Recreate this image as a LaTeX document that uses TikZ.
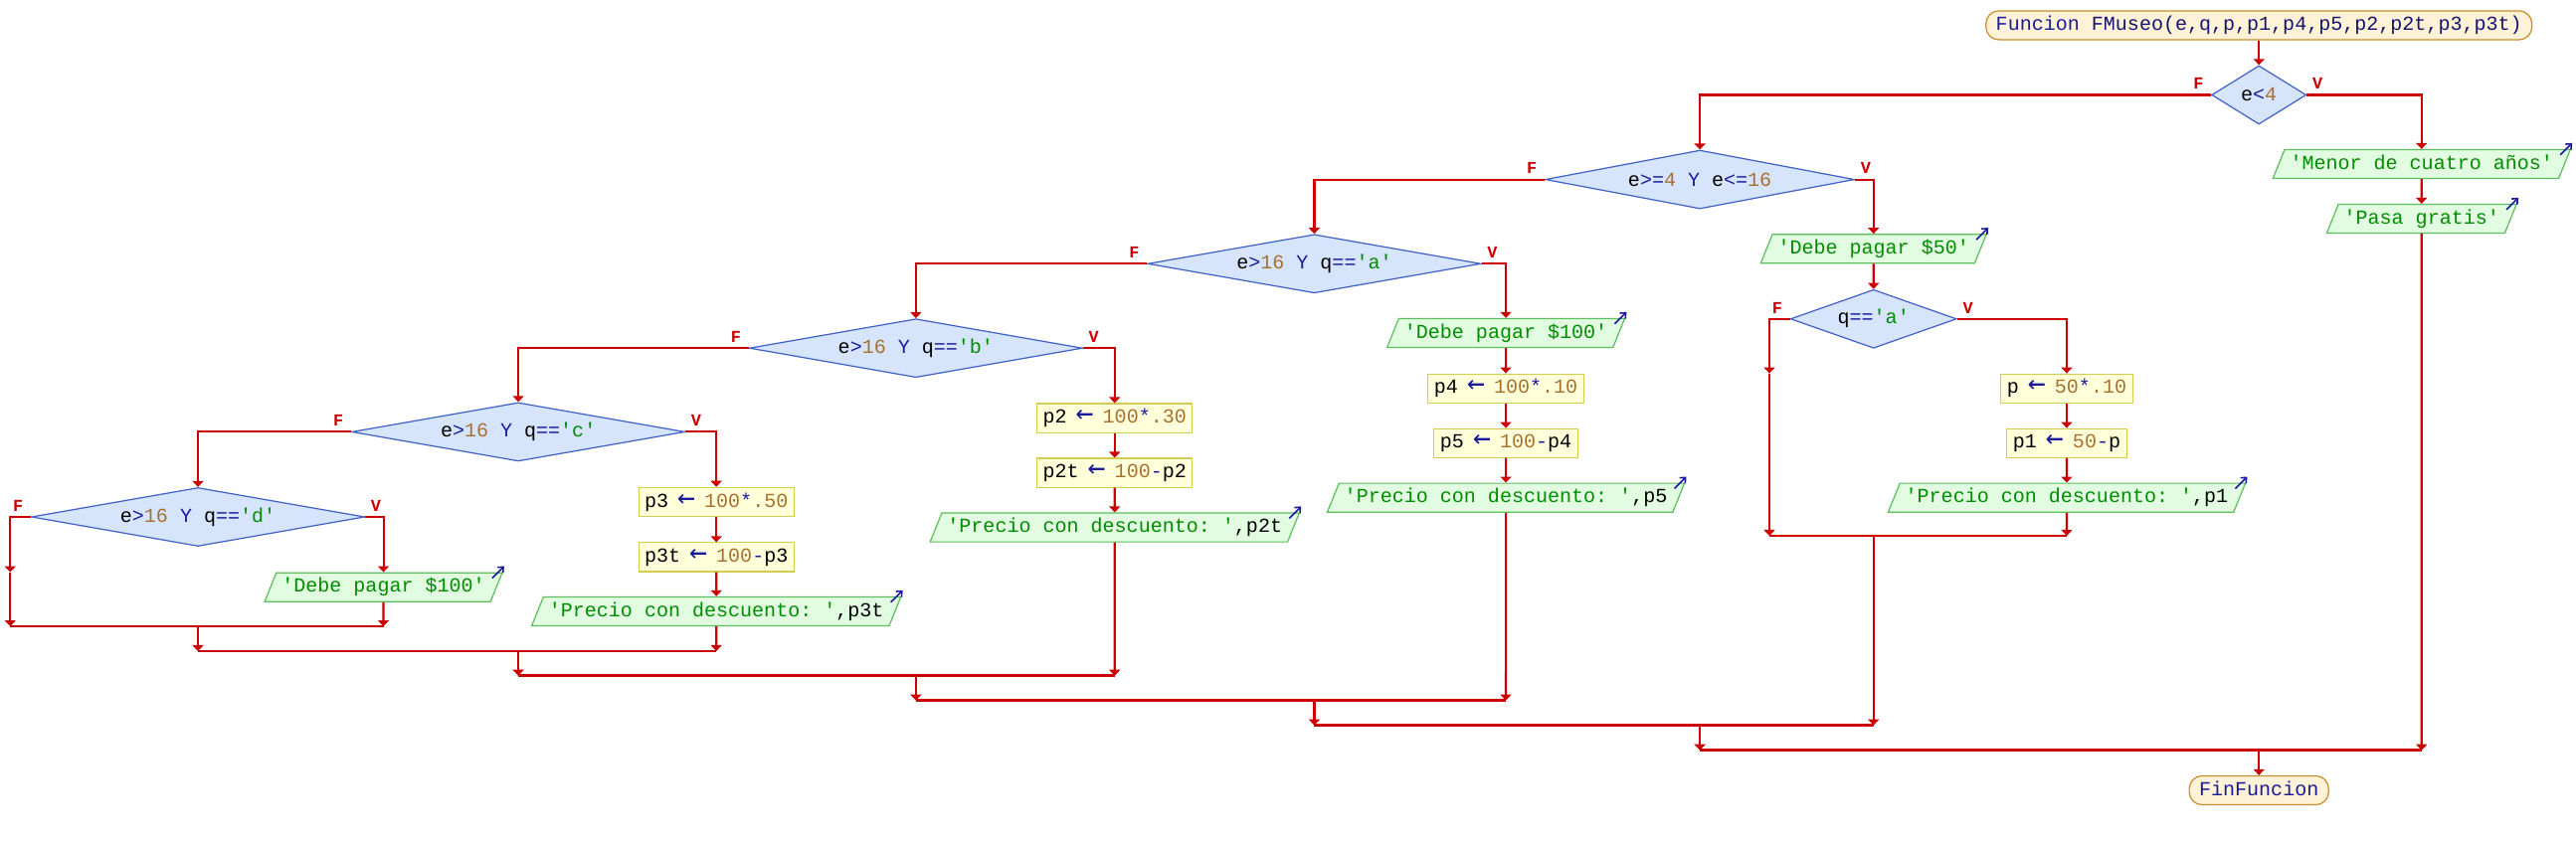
\documentclass[tikz,border=0pt]{standalone}
\usepackage{fontspec}
\setmonofont{Liberation Mono}
\newfontfamily\arrowfont{DejaVu Sans Mono}
\usetikzlibrary{shapes.geometric,arrows.meta}

\definecolor{flowred}{HTML}{CC0000}
\definecolor{opblue}{HTML}{1A1A9C}
\definecolor{hdblue}{HTML}{14146E}
\definecolor{numbrown}{HTML}{A8702F}
\definecolor{strgreen}{HTML}{008C00}
\definecolor{termfill}{HTML}{FFF2D6}
\definecolor{termline}{HTML}{C88E2E}
\definecolor{decfill}{HTML}{D6E4FC}
\definecolor{decline}{HTML}{4262C8}
\definecolor{asgfill}{HTML}{FFFFD9}
\definecolor{asgline}{HTML}{D2CC50}
\definecolor{outfill}{HTML}{E2FCE2}
\definecolor{outborder}{HTML}{5CBE5C}

\newcommand{\pse}{\ttfamily\fontsize{5.7}{6.8}\selectfont}
\newcommand{\pop}[1]{\textcolor{opblue}{#1}}
\newcommand{\pnum}[1]{\textcolor{numbrown}{#1}}
\newcommand{\pstr}[1]{\textcolor{strgreen}{#1}}
\newcommand{\asg}{\pop{\makebox[0.6em][c]{\arrowfont\fontsize{8.5}{8}\selectfont ←}}}
\newcommand{\cond}[1]{\makebox[0pt]{#1}}

\tikzset{
  boxtext/.style={text height=1.45mm, text depth=0.4mm, inner ysep=0.53mm},
  term/.style={boxtext, rectangle, rounded corners=1.3mm, draw=termline, fill=termfill,
    line width=0.35pt, inner xsep=1mm},
  dec/.style={diamond, draw=decline, fill=decfill, line width=0.35pt,
    inner sep=0pt, minimum height=5.9mm, minimum width=33.5mm},
  asgbox/.style={boxtext, rectangle, draw=asgline, fill=asgfill, line width=0.3pt,
    inner xsep=0.6mm},
  outbox/.style={boxtext, trapezium, trapezium left angle=68, trapezium right angle=112,
    draw=outborder, fill=outfill, line width=0.35pt, inner xsep=0.55mm},
  tag/.style={text=flowred, font=\ttfamily\bfseries\fontsize{4.8}{5.5}\selectfont, inner sep=0.5mm},
  flow/.style={draw=flowred, line width=0.6pt, -{Triangle[width=1.1mm,length=0.6mm]}},
  merge/.style={draw=flowred, line width=0.75pt},
  sendmark/.style={draw=opblue, line width=0.45pt, -{Straight Barb[length=0.45mm,width=0.8mm]}}
}

\begin{document}
\begin{tikzpicture}[x=0.16518mm, y=-0.16518mm, font=\pse]
  \useasboundingbox (0,0) rectangle (1568,512);

  % Start and the outer decision
  \node[term] (st) at (1375,15.4) {\pop{Funcion} \textcolor{hdblue}{FMuseo(e,q,p,p1,p4,p5,p2,p2t,p3,p3t)}};
  \node[dec, minimum width=9.5mm] (d1) at (1375,57.8) {\cond{e\pop{<}\pnum{4}}};
  \node[outbox] (o1) at (1474,99.9) {\pstr{'Menor de cuatro años'}};
  \node[outbox] (o2) at (1474,133.2) {\pstr{'Pasa gratis'}};

  % e>=4 Y e<=16
  \node[dec, minimum width=31.1mm] (d2) at (1034.7,109.3) {\cond{e\pop{>=}\pnum{4} \pop{Y} e\pop{<=}\pnum{16}}};
  \node[outbox] (o3) at (1140.4,151.5) {\pstr{'Debe pagar \$50'}};
  \node[dec, minimum width=16.7mm] (d4) at (1140.4,194.2) {\cond{q\pop{==}\pstr{'a'}}};
  \node[asgbox] (a1) at (1258,236.5) {p \asg{} \pnum{50}\pop{*}\pnum{.10}};
  \node[asgbox] (a2) at (1258,269.8) {p1 \asg{} \pnum{50}\pop{-}p};
  \node[outbox] (o4) at (1258,303.1) {\pstr{'Precio con descuento: '},p1};

  % e>16 Y q=='a'
  \node[dec] (d3) at (800,160.6) {\cond{e\pop{>}\pnum{16} \pop{Y} q\pop{==}\pstr{'a'}}};
  \node[outbox] (o5) at (916.6,202.8) {\pstr{'Debe pagar \$100'}};
  \node[asgbox] (a3) at (916.6,236.5) {p4 \asg{} \pnum{100}\pop{*}\pnum{.10}};
  \node[asgbox] (a4) at (916.6,269.8) {p5 \asg{} \pnum{100}\pop{-}p4};
  \node[outbox] (o6) at (916.6,303.1) {\pstr{'Precio con descuento: '},p5};

  % e>16 Y q=='b'
  \node[dec] (d5) at (557.5,212) {\cond{e\pop{>}\pnum{16} \pop{Y} q\pop{==}\pstr{'b'}}};
  \node[asgbox] (a5) at (678.5,254.6) {p2 \asg{} \pnum{100}\pop{*}\pnum{.30}};
  \node[asgbox] (a6) at (678.5,287.9) {p2t \asg{} \pnum{100}\pop{-}p2};
  \node[outbox] (o7) at (678.5,321.2) {\pstr{'Precio con descuento: '},p2t};

  % e>16 Y q=='c'
  \node[dec] (d6) at (315.5,263) {\cond{e\pop{>}\pnum{16} \pop{Y} q\pop{==}\pstr{'c'}}};
  \node[asgbox] (a7) at (436,305.6) {p3 \asg{} \pnum{100}\pop{*}\pnum{.50}};
  \node[asgbox] (a8) at (436,339.3) {p3t \asg{} \pnum{100}\pop{-}p3};
  \node[outbox] (o8) at (436,372.3) {\pstr{'Precio con descuento: '},p3t};

  % e>16 Y q=='d'
  \node[dec] (d7) at (120.5,314.8) {\cond{e\pop{>}\pnum{16} \pop{Y} q\pop{==}\pstr{'d'}}};
  \node[outbox] (o9) at (233.4,357.6) {\pstr{'Debe pagar \$100'}};

  \node[term] (fin) at (1375,481.3) {\pop{FinFuncion}};

  % F / V tags and output marks
  \foreach \i in {1,...,7}{
    \node[tag, anchor=south east, xshift=-0.2mm] (f\i) at (d\i.west) {F};
    \node[tag, anchor=south west] (v\i) at (d\i.east) {V};
  }
  \foreach \i in {1,...,9}
    \draw[sendmark] ([shift={(-1.1mm,-0.6mm)}]o\i.top right corner) -- ++(1.2mm,1.2mm);

  % Join points
  \coordinate (e4) at (a1.north -| 1077,0);
  \coordinate (e7) at (o9.north -| 6.2,0);
  \coordinate (j4) at (d4 |- 0,326.3);
  \coordinate (j7) at (d7 |- 0,381.4);
  \coordinate (j6) at (d6 |- 0,396.5);
  \coordinate (j5) at (d5 |- 0,411.5);
  \coordinate (j3) at (d3 |- 0,426.6);
  \coordinate (j2) at (d2 |- 0,441.7);
  \coordinate (j1) at (d1 |- 0,456.9);

  % Branches
  \draw[flow] (st) -- (d1);
  \draw[flow] (d1.west) -| (d2.north);
  \draw[flow] (d1.east) -| (o1.north);
  \draw[flow] (o1) -- (o2);
  \draw[flow] (d2.west) -| (d3.north);
  \draw[flow] (d2.east) -| (o3.north);
  \draw[flow] (o3) -- (d4);
  \draw[flow] (d4.west) -| (e4);
  \draw[flow] (d4.east) -| (a1.north);
  \draw[flow] (a1) -- (a2);
  \draw[flow] (a2) -- (o4);
  \draw[flow] (d3.west) -| (d5.north);
  \draw[flow] (d3.east) -| (o5.north);
  \draw[flow] (o5) -- (a3);
  \draw[flow] (a3) -- (a4);
  \draw[flow] (a4) -- (o6);
  \draw[flow] (d5.west) -| (d6.north);
  \draw[flow] (d5.east) -| (a5.north);
  \draw[flow] (a5) -- (a6);
  \draw[flow] (a6) -- (o7);
  \draw[flow] (d6.west) -| (d7.north);
  \draw[flow] (d6.east) -| (a7.north);
  \draw[flow] (a7) -- (a8);
  \draw[flow] (a8) -- (o8);
  \draw[flow] (d7.west) -| (e7);
  \draw[flow] (d7.east) -| (o9.north);

  % Joins
  \draw[flow] (e7) -- (e7 |- j7);
  \draw[flow] (o9) -- (o9 |- j7);
  \draw[merge] (e7 |- j7) -- (o9 |- j7);
  \draw[flow] (j7) -- (j7 |- j6);
  \draw[flow] (o8) -- (o8 |- j6);
  \draw[merge] (j7 |- j6) -- (o8 |- j6);
  \draw[flow] (j6) -- (j6 |- j5);
  \draw[flow] (o7) -- (o7 |- j5);
  \draw[merge] (j6 |- j5) -- (o7 |- j5);
  \draw[flow] (j5) -- (j5 |- j3);
  \draw[flow] (o6) -- (o6 |- j3);
  \draw[merge] (j5 |- j3) -- (o6 |- j3);
  \draw[flow] (e4) -- (e4 |- j4);
  \draw[flow] (o4) -- (o4 |- j4);
  \draw[merge] (e4 |- j4) -- (o4 |- j4);
  \draw[flow] (j3) -- (j3 |- j2);
  \draw[flow] (j4) -- (j4 |- j2);
  \draw[merge] (j3 |- j2) -- (j4 |- j2);
  \draw[flow] (j2) -- (j2 |- j1);
  \draw[flow] (o2) -- (o2 |- j1);
  \draw[merge] (j2 |- j1) -- (o2 |- j1);
  \draw[flow] (j1) -- (fin);
\end{tikzpicture}
\end{document}
